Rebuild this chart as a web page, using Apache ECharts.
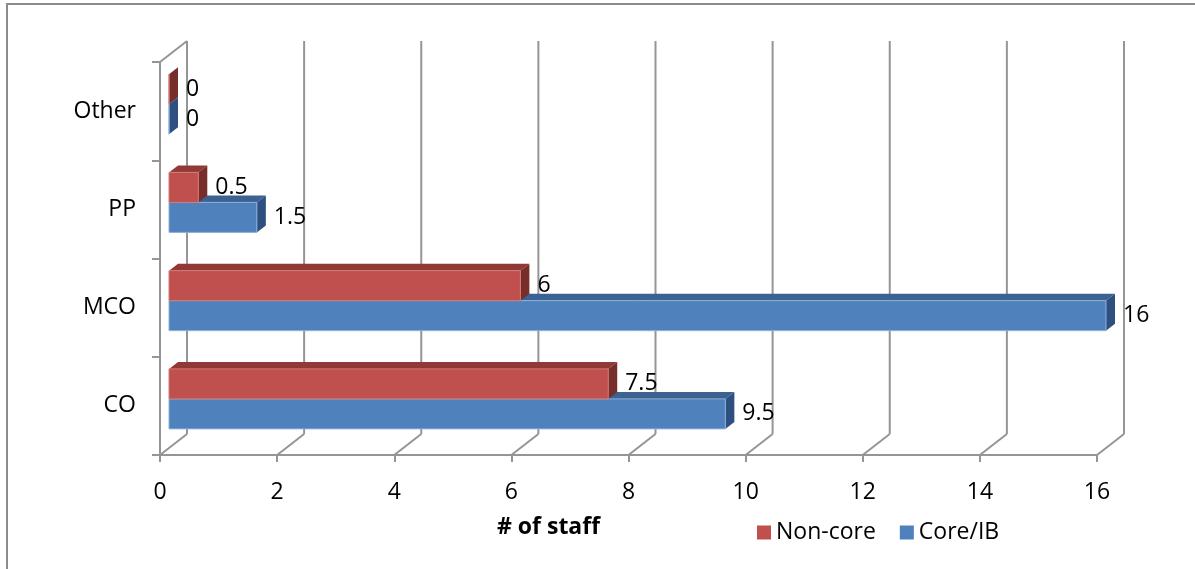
<!DOCTYPE html>
<html>
<head>
<meta charset="utf-8">
<title>Staff by category</title>
<script src="https://cdn.jsdelivr.net/npm/echarts@6/dist/echarts.min.js"></script>
<style>
  html, body { margin: 0; padding: 0; background: #fff; }
  #chart { width: 1195px; height: 569px; }
</style>
</head>
<body>
<div id="chart"></div>
<script>
// categories bottom -> top
const categories = ['CO', 'MCO', 'PP', 'Other'];
const nonCore = [7.5, 6, 0.5, 0];
const coreIB = [9.5, 16, 1.5, 0];
const xTicks = [0, 2, 4, 6, 8, 10, 12, 14, 16];

const FONT = '"Open Sans", sans-serif';
const GRID_COLOR = '#959595';

// 3D offsets (px): full wall depth, and bar position / thickness inside it
const DEPTH_X = 27, DEPTH_Y = 21;
const BAR_DX = 9, BAR_DY = 7;
const BAR_H = 30;

const chart = echarts.init(document.getElementById('chart'));

// back wall + floor lines, hung off the x axis ticks
function renderFrame(params, api) {
  const v = api.value(0);
  const cs = params.coordSys;
  const x = api.coord([v, 0])[0];
  const bottom = cs.y + cs.height;
  const top = cs.y;
  const style = { stroke: GRID_COLOR, lineWidth: 2 };
  const children = [
    { type: 'line', shape: { x1: x, y1: bottom, x2: x + DEPTH_X, y2: bottom - DEPTH_Y }, style },
    { type: 'line', shape: { x1: x + DEPTH_X, y1: bottom - DEPTH_Y, x2: x + DEPTH_X, y2: top - DEPTH_Y }, style },
  ];
  if (v === 0) {
    children.push({ type: 'line', shape: { x1: x, y1: top, x2: x + DEPTH_X, y2: top - DEPTH_Y }, style });
  }
  return { type: 'group', children };
}

function makeBarRenderer(colors, upper) {
  return function (params, api) {
    const v = api.value(0);
    const cat = api.value(1);
    const base = api.coord([0, cat]);
    const end = api.coord([v, cat]);
    const x0 = base[0] + BAR_DX;
    const x1 = end[0] + BAR_DX;
    const cy = base[1] - BAR_DY;
    const yTop = upper ? cy - BAR_H : cy;
    const yBot = yTop + BAR_H;
    return {
      type: 'group',
      children: [
        {
          type: 'polygon',
          shape: { points: [[x0, yTop], [x0 + BAR_DX, yTop - BAR_DY], [x1 + BAR_DX, yTop - BAR_DY], [x1, yTop]] },
          style: { fill: colors.top },
        },
        {
          type: 'polygon',
          shape: { points: [[x1, yTop], [x1 + BAR_DX, yTop - BAR_DY], [x1 + BAR_DX, yBot - BAR_DY], [x1, yBot]] },
          style: { fill: colors.side },
        },
        {
          type: 'rect',
          shape: { x: x0, y: yTop, width: x1 - x0, height: BAR_H },
          style: { fill: colors.front, stroke: colors.edge, lineWidth: 1 },
        },
        {
          type: 'text',
          x: x1 + BAR_DX + 8,
          y: (yTop + yBot) / 2,
          style: {
            text: String(v),
            fill: '#000',
            font: '23px ' + FONT,
            align: 'left',
            verticalAlign: 'middle',
          },
        },
      ],
    };
  };
}

const RED = { front: '#C0504D', top: '#913936', side: '#772D2A', edge: '#d47c79' };
const BLUE = { front: '#4F81BD', top: '#3B6291', side: '#2E5080', edge: '#8fb0d8' };

chart.setOption({
  animation: false,
  textStyle: { fontFamily: FONT },
  grid: { left: 160, right: 98, top: 62, bottom: 114 },
  legend: {
    data: ['Non-core', 'Core/IB'],
    left: 752,
    top: 516,
    icon: 'rect',
    itemWidth: 14,
    itemHeight: 14,
    itemGap: 24,
    textStyle: { fontSize: 23, color: '#000', fontFamily: FONT },
  },
  xAxis: {
    type: 'value',
    min: 0,
    max: 16,
    interval: 2,
    axisLine: { show: true, lineStyle: { color: GRID_COLOR, width: 2 } },
    axisTick: { show: true, length: 7, lineStyle: { color: GRID_COLOR, width: 2 } },
    axisLabel: { fontSize: 23, color: '#000', margin: 26 },
    splitLine: { show: false },
  },
  yAxis: {
    type: 'category',
    data: categories,
    axisLine: { show: true, lineStyle: { color: GRID_COLOR, width: 2 } },
    axisTick: { show: true, length: 8, lineStyle: { color: GRID_COLOR, width: 2 } },
    axisLabel: { fontSize: 23, color: '#000', margin: 24, padding: [4, 0, 0, 0] },
  },
  graphic: [
    {
      type: 'rect',
      shape: { x: 7, y: 4, width: 1400, height: 800 },
      style: { fill: 'none', stroke: '#8c8c8c', lineWidth: 2 },
      silent: true,
    },
    {
      type: 'text',
      left: 497,
      top: 516,
      style: { text: '# of staff', font: 'bold 23px ' + FONT, fill: '#000' },
    },
  ],
  series: [
    {
      type: 'custom',
      name: 'frame',
      renderItem: renderFrame,
      data: xTicks.map(v => [v]),
      silent: true,
    },
    {
      type: 'custom',
      name: 'Core/IB',
      itemStyle: { color: BLUE.front },
      renderItem: makeBarRenderer(BLUE, false),
      data: coreIB.map((v, i) => [v, i]),
    },
    {
      type: 'custom',
      name: 'Non-core',
      itemStyle: { color: RED.front },
      renderItem: makeBarRenderer(RED, true),
      data: nonCore.map((v, i) => [v, i]),
    },
  ],
});
</script>
</body>
</html>
